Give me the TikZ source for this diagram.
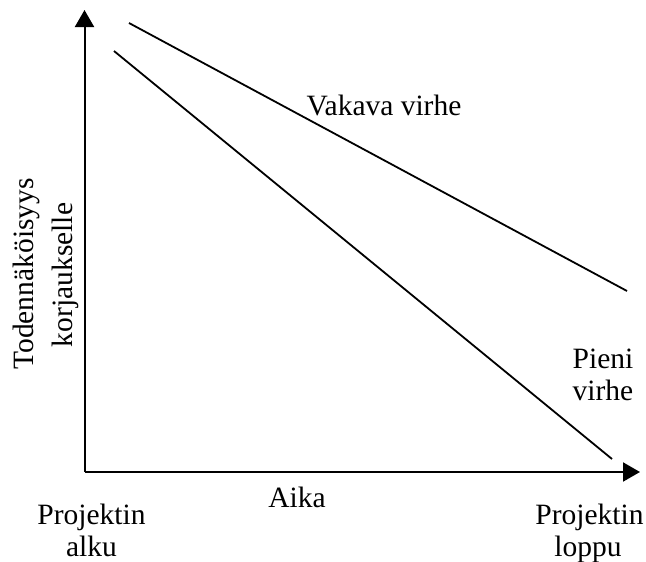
\documentclass[tikz,border=0pt]{standalone}
\usepackage{fontspec}
\setmainfont{Liberation Serif}
\usetikzlibrary{arrows.meta}
\begin{document}
\begin{tikzpicture}[x=1pt,y=-1pt,
  axis/.style={line width=2pt,-{Triangle[length=17pt,width=19pt]}},
  trend/.style={line width=1.8pt},
  lbl/.style={font=\fontsize{29.5}{32}\selectfont, inner sep=0pt, anchor=base}]
\useasboundingbox (0,0) rectangle (646,562);

% axes
\coordinate (O) at (84.5,472);
\coordinate (ytip) at (84.5,10);
\coordinate (xtip) at (640,472);
\draw[axis] (O) -- (ytip);
\draw[axis] (O) -- (xtip);

% trend lines
\coordinate (serA) at (129,23);
\coordinate (serB) at (627,291);
\coordinate (minA) at (114,51);
\coordinate (minB) at (612,459);
\draw[trend] (serA) -- (serB);
\draw[trend] (minA) -- (minB);

% labels
\node[lbl] (vakava) at (384,115) {Vakava virhe};
\node[lbl] (pieni) at (603,368) {Pieni};
\node[lbl] (virhe) at (603,400) {virhe};
\node[lbl] (aika) at (297,507.5) {Aika};
\node[lbl] (alku1) at (91.5,524) {Projektin};
\node[lbl] (alku2) at (91.5,556) {alku};
\node[lbl] (loppu1) at (589.5,524) {Projektin};
\node[lbl] (loppu2) at (588,556) {loppu};
\node[lbl,rotate=90] (ylab1) at (34,274) {Todennäköisyys};
\node[lbl,rotate=90] (ylab2) at (72.5,275) {korjaukselle};
\end{tikzpicture}
\end{document}
